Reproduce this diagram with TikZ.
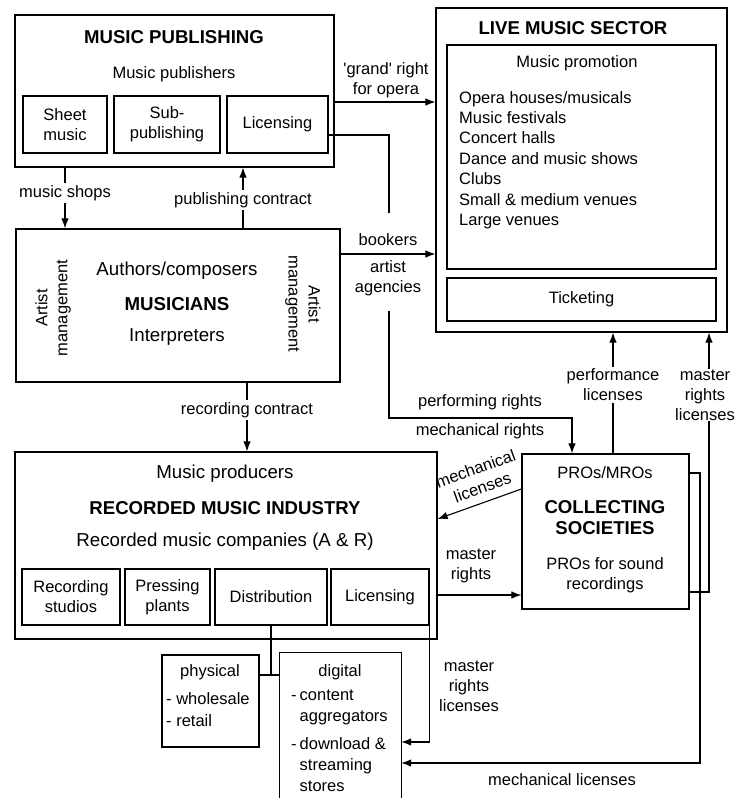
\documentclass[tikz,border=0pt]{standalone}
\usepackage{fontspec}
\setmainfont{Liberation Sans}
\usetikzlibrary{arrows.meta}

\newcommand\fsn{\fontsize{16.5}{20}\selectfont}
\newcommand\fsb{\fontsize{18.7}{22}\selectfont}
\newcommand\fst{\fontsize{18.6}{21}\selectfont\bfseries}

\tikzset{
  box/.style={draw, line width=1.2pt, fill=white, inner sep=0pt, align=center, font=\fsn},
  txt/.style={font=\fsn, inner sep=0pt, align=center},
  bigtxt/.style={font=\fsb, inner sep=0pt, align=center},
  ttl/.style={font=\fst, inner sep=0pt, align=center},
  lbl/.style={font=\fsn, fill=white, inner sep=2pt, align=center},
  conn/.style={line width=1.1pt},
  arr/.style={line width=1.1pt, -{Latex[length=10pt,width=7.5pt]}},
}

\begin{document}
\begin{tikzpicture}[x=1pt,y=-1pt]
\useasboundingbox (0,0) rectangle (737,798);
\fill[white] (0,0) rectangle (737,798);

% ---------- music publishing ----------
\node[box, minimum width=319pt, minimum height=152pt] (pub) at (174.5,91) {};
\node[ttl] (pubT) at (174,37) {MUSIC PUBLISHING};
\node[txt] (pubS) at (174,74) {Music publishers};
\node[box, minimum width=84pt,  minimum height=57pt] (sheet) at (65,124.5) {Sheet\\music};
\node[box, minimum width=106pt, minimum height=57pt] (subp)  at (167,124.5) {Sub-\\publishing};
\node[box, minimum width=101pt, minimum height=57pt] (plic)  at (277.5,124.5) {Licensing};

% ---------- live music sector ----------
\node[box, minimum width=291pt, minimum height=324pt] (live) at (581.5,170) {};
\node[ttl] (liveT) at (573,28) {LIVE MUSIC SECTOR};
\node[box, minimum width=269pt, minimum height=224pt] (promo) at (581.5,157) {};
\node[txt] (promoT) at (577,63) {Music promotion};
\node[txt, align=left, anchor=north west, font=\fontsize{16.5}{20.4}\selectfont] (venues) at (459,91)
  {Opera houses/musicals\\Music festivals\\Concert halls\\Dance and music shows\\Clubs\\Small \& medium venues\\Large venues};
\node[box, minimum width=269pt, minimum height=43pt] (tick) at (581.5,299.5) {Ticketing};

% ---------- musicians ----------
\node[box, minimum width=324pt, minimum height=153pt] (mus) at (178,305.5) {};
\node[bigtxt] (musA) at (177,271) {Authors/composers};
\node[bigtxt, font=\fsb\bfseries] (musM) at (177,304) {MUSICIANS};
\node[bigtxt] (musI) at (177,337) {Interpreters};
\node[txt, rotate=90]  (amL) at (53,308) {Artist\\management};
\node[txt, rotate=-90] (amR) at (303,304) {Artist\\management};

% ---------- recorded music industry ----------
\node[box, minimum width=422pt, minimum height=187pt] (rec) at (226,545.5) {};
\node[bigtxt] (recP) at (225,474) {Music producers};
\node[ttl] (recT) at (225,508) {RECORDED MUSIC INDUSTRY};
\node[bigtxt] (recC) at (225,542) {Recorded music companies (A \& R)};
\node[box, minimum width=98pt,  minimum height=56pt] (rstud) at (71,597)    {Recording\\studios};
\node[box, minimum width=85pt,  minimum height=56pt] (press) at (167.5,597) {Pressing\\plants};
\node[box, minimum width=112pt, minimum height=56pt] (distr) at (271,597)   {Distribution};
\node[box, minimum width=98pt,  minimum height=56pt] (rlic)  at (380,597)   {Licensing};

% ---------- distribution channels ----------
\node[box, minimum width=97pt, minimum height=92pt] (phys) at (210.5,701) {};
\node[txt] (physT) at (210,672) {physical};
\node[txt, align=left, anchor=north west, font=\fontsize{16.5}{22.5}\selectfont] (physL) at (166,692) {- wholesale\\- retail};

\node[inner sep=0pt, minimum width=121pt, minimum height=145pt] (dig) at (340.5,725.5) {};
\draw[line width=1.2pt] (dig.south west) |- (dig.north east) -- (dig.south east);
\node[txt] (digT) at (340,672) {digital};
\node[inner sep=0pt, anchor=base west, font=\fontsize{16.5}{21}\selectfont] (digL) at (291,700)
  {\begin{tabular}[t]{@{}l@{\hspace{3pt}}l@{}}
   - & content\\
     & aggregators\\[7pt]
   - & download \&\\
     & streaming\\
     & stores
   \end{tabular}};

% ---------- collecting societies (stacked boxes) ----------
\node[box, minimum width=167pt, minimum height=155pt] (cs) at (605.5,531.5) {};
\node[txt] (csA) at (605,473) {PROs/MROs};
\node[ttl] (csT) at (605,518) {COLLECTING\\SOCIETIES};
\node[txt] (csB) at (605,575) {PROs for sound\\recordings};
\coordinate (bk) at (700,473);
\draw[arr] (cs.east |- bk) -- (bk) |- (dig.east |- 0,763);
\node[txt] (mlL) at (562,780) {mechanical licenses};

% ---------- connectors ----------
% publishing <-> musicians
\draw[arr] (pub.south -| sheet.south) -- (mus.north -| sheet.south)
  node[lbl, pos=0.42] {music shops};
\coordinate (pcx) at (243,0);
\draw[arr] (mus.north -| pcx) -- (pub.south -| pcx)
  node[lbl, pos=0.47] {publishing contract};

% grand right
\coordinate (gy) at (0,102);
\draw[arr] (pub.east |- gy) -- (live.west |- gy);
\node[txt] (grandL) at (386,80) {\textquotesingle grand\textquotesingle{} right\\for opera};

% bookers
\coordinate (by) at (0,254);
\draw[arr] (mus.east |- by) -- (live.west |- by);
\node[txt] (bookL) at (388,240) {bookers};
\node[txt] (agL) at (388,278) {artist\\agencies};

% licensing -> performing / mechanical rights -> collecting societies
\coordinate (lk) at (389,135);
\coordinate (lkend) at (389,213);
\draw[conn] (plic.east |- lk) -- (lk) -- (lkend);
\coordinate (lkstart) at (389,311);
\coordinate (pr) at (572,418);
\draw[arr] (lkstart) |- (pr) -- (cs.north -| pr);
\node[txt] (perfL) at (480,402) {performing rights};
\node[txt] (mechL) at (480,431) {mechanical rights};

% recording contract
\coordinate (rcx) at (247,0);
\draw[arr] (mus.south -| rcx) -- (rec.north -| rcx)
  node[lbl, pos=0.4] {recording contract};

% performance licenses
\coordinate (plx) at (613,0);
\draw[arr] (cs.north -| plx) -- (live.south -| plx)
  node[lbl, pos=0.566] {performance\\licenses};

% master rights licenses to live sector
\coordinate (mx) at (709,592);
\draw[arr] (cs.east |- mx) -- (mx) -- (live.south -| mx);
\node[lbl, inner sep=1pt] (mrlU) at (705,395) {master\\rights\\licenses};

% mechanical licenses to recorded industry
\coordinate (ma) at (0,489);
\coordinate (mb) at (0,519);
\draw[arr] (cs.west |- ma) -- (rec.east |- mb);
\node[txt, rotate=20] (mlD) at (479,478) {mechanical\\licenses};

% master rights to collecting societies
\coordinate (mry) at (0,595);
\draw[arr] (rec.east |- mry) -- (cs.west |- mry);
\node[txt] (mrL) at (471,566) {master\\rights};

% master rights licenses to digital stores
\draw[arr] (rlic.south east) |- (dig.east |- 0,742);
\node[txt] (mrlD) at (469,686) {master\\rights\\licenses};

% distribution split
\coordinate (jy) at (0,675);
\draw[conn] (distr.south) -- (distr.south |- jy);
\draw[conn] (phys.east |- jy) -- (dig.west |- jy);
\end{tikzpicture}
\end{document}
